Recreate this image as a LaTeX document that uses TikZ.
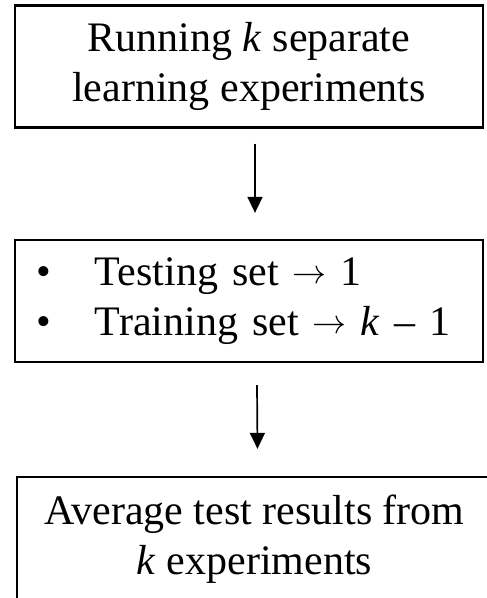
\documentclass[tikz,border=0pt]{standalone}
\usepackage{fontspec}
\setmainfont{Liberation Serif}
\usepackage{graphicx}
\usepackage{tikz}
\usetikzlibrary{arrows.meta, calc}

\newcommand{\toarr}{\raisebox{1.5pt}{\scalebox{3.4}{\normalsize$\rightarrow$}}}

\tikzset{
    stepbox/.style={draw, line width=2.3pt, minimum width=468pt, minimum height=122pt,
                    inner sep=0pt, font=\fontsize{42}{50}\selectfont},
    flow/.style={line width=1.7pt, -{Triangle[width=15pt,length=16pt]}}
}

\begin{document}
\begin{tikzpicture}[x=1pt, y=-1pt]

\useasboundingbox (0,0) rectangle (487,598);
\clip (0,0) rectangle (487,598);

\node[stepbox, align=center] (run) at (249, 66.5) {Running \textit{k} separate\\learning experiments};

\node[stepbox, align=left, text width=424pt] (split) at (249, 301)
    {\makebox[58pt][l]{•}Testing set \toarr\ 1\\
     \makebox[58pt][l]{•}Training set \toarr\ \textit{k} – 1};

%% last box runs past the page edge
\node[stepbox, align=center, minimum width=475pt, minimum height=124pt] (avg) at (254.5, 539)
    {Average test results from\\\textit{k} experiments};

\draw[flow] ([xshift=6pt, yshift=-15pt]run.south) -- ([xshift=6pt, yshift=26pt]split.north);
\draw[flow] ([xshift=8pt, yshift=-22pt]split.south) -- ([xshift=3pt, yshift=27pt]avg.north);

\end{tikzpicture}
\end{document}
